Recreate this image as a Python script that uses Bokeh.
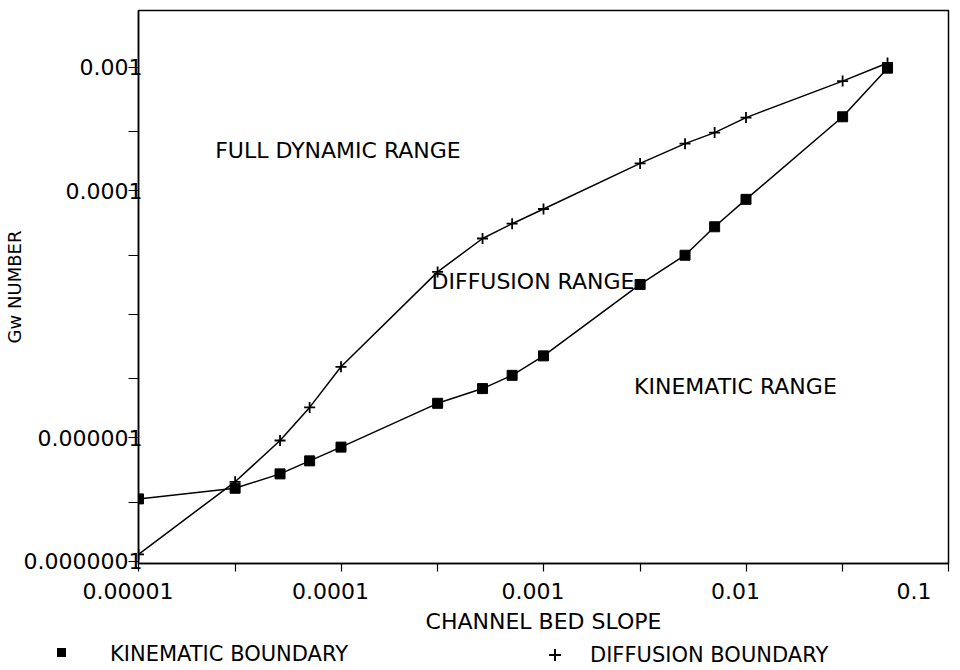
from bokeh.plotting import figure
from bokeh.layouts import column
from bokeh.models import (FixedTicker, CustomJSTickFormatter, Label, Range1d, Div)
from bokeh.embed import file_html
from bokeh.resources import INLINE

# ---- data ----
slope = [1e-5, 3e-5, 5e-5, 7e-5, 1e-4, 3e-4, 5e-4, 7e-4,
         1e-3, 3e-3, 5e-3, 7e-3, 1e-2, 3e-2, 5e-2]
kinematic_gw = [3.2e-7, 3.9e-7, 5.1e-7, 6.5e-7, 8.4e-7, 1.9e-6, 2.5e-6, 3.2e-6,
                4.6e-6, 1.74e-5, 3.0e-5, 5.1e-5, 8.5e-5, 3.96e-4, 9.8e-4]
diffusion_gw = [1.14e-7, 4.4e-7, 9.5e-7, 1.76e-6, 3.75e-6, 2.2e-5, 4.1e-5, 5.4e-5,
                7.1e-5, 1.66e-4, 2.4e-4, 2.95e-4, 3.9e-4, 7.7e-4, 1.08e-3]

x_tick_values = [1e-5, 1e-4, 1e-3, 1e-2, 1e-1]
x_tick_labels = ["0.00001", "0.0001", "0.001", "0.01", "0.1"]
x_minor_values = [3e-5, 3e-4, 3e-3, 3e-2]
y_tick_values = [1e-7, 1e-6, 1e-5, 1e-4, 1e-3]
y_tick_labels = ["0.0000001", "0.000001", "", "0.0001", "0.001"]
y_minor_values = [3e-7, 3e-6, 3e-5, 3e-4]

region_labels = ["FULL DYNAMIC RANGE", "DIFFUSION RANGE", "KINEMATIC RANGE"]
series_names = ["KINEMATIC BOUNDARY", "DIFFUSION BOUNDARY"]

FONT = "DejaVu Sans"
FS = "22px"

p = figure(width=952, height=636, x_axis_type="log", y_axis_type="log",
           x_range=Range1d(1e-5, 1e-1), y_range=Range1d(9.6e-8, 2.87e-3),
           output_backend="svg", toolbar_location=None,
           min_border_left=136, min_border_right=4, min_border_top=10,
           min_border_bottom=70)
p.xgrid.visible = False
p.ygrid.visible = False
p.outline_line_color = "black"
p.outline_line_width = 1.5
p.background_fill_color = "white"
p.border_fill_color = "white"

fmt_code = """
for (let i = 0; i < vals.length; i++) {
  if (Math.abs(Math.log10(tick) - Math.log10(vals[i])) < 1e-6) return labs[i] + pad;
}
return "";
"""

xa = p.xaxis[0]
xa.ticker = FixedTicker(ticks=x_tick_values, minor_ticks=x_minor_values)
# labels in the original sit a little left of their ticks: pad with no-break spaces
xa.formatter = CustomJSTickFormatter(args=dict(vals=x_tick_values, labs=x_tick_labels,
                                               pad="\u00a0\u00a0\u00a0"), code=fmt_code)
xa.axis_label = "CHANNEL BED SLOPE"
xa.axis_label_text_font = FONT
xa.axis_label_text_font_size = FS
xa.axis_label_text_font_style = "normal"
xa.axis_label_text_color = "black"
xa.axis_label_standoff = 2
xa.major_label_text_font = FONT
xa.major_label_text_font_size = FS
xa.major_label_text_color = "black"
xa.major_label_standoff = 7
xa.major_tick_out = 8
xa.major_tick_in = 0
xa.minor_tick_out = 8
xa.minor_tick_in = 0
xa.axis_line_width = 1.5
xa.major_tick_line_width = 1.2
xa.minor_tick_line_width = 1.2

ya = p.yaxis[0]
ya.ticker = FixedTicker(ticks=y_tick_values, minor_ticks=y_minor_values)
ya.formatter = CustomJSTickFormatter(args=dict(vals=y_tick_values, labs=y_tick_labels, pad=""),
                                     code=fmt_code)
ya.axis_label = "Gw NUMBER"
ya.axis_label_text_font = FONT
ya.axis_label_text_font_size = "18px"
ya.axis_label_text_font_style = "normal"
ya.axis_label_text_color = "black"
ya.axis_label_standoff = -4
ya.major_label_text_font = FONT
ya.major_label_text_font_size = FS
ya.major_label_text_color = "black"
ya.major_label_standoff = -14
ya.major_tick_out = 10
ya.major_tick_in = 0
ya.minor_tick_out = 10
ya.minor_tick_in = 0
ya.axis_line_width = 1.5
ya.major_tick_line_width = 1.2
ya.minor_tick_line_width = 1.2

# ---- series ----
p.line(slope, kinematic_gw, line_color="black", line_width=1.5)
p.scatter(slope, kinematic_gw, marker="square", size=10,
          fill_color="black", line_color="black")
p.line(slope, diffusion_gw, line_color="black", line_width=1.5)
p.scatter(slope, diffusion_gw, marker="cross", size=11,
          line_color="black", line_width=1.8)

# ---- region labels ----
label_pos = [(2.39e-5, 2.11e-4), (2.8e-4, 1.84e-5), (2.8e-3, 2.6e-6)]
for txt, (lx, ly) in zip(region_labels, label_pos):
    p.add_layout(Label(x=lx, y=ly, text=txt, text_font=FONT, text_font_size=FS,
                       text_align="left", text_baseline="middle", text_color="black"))

# ---- key below the chart (the original puts it under the axis title, left of the frame) ----
key_html = f"""
<div style="position:relative;width:952px;height:30px;font-family:'DejaVu Sans',sans-serif;
            font-size:21px;line-height:24px;color:black;">
  <div style="position:absolute;left:57px;top:12px;width:9px;height:9px;background:black;"></div>
  <div style="position:absolute;left:110px;top:6px;white-space:nowrap;">{series_names[0]}</div>
  <div style="position:absolute;left:549px;top:18px;width:12px;height:2px;background:black;"></div>
  <div style="position:absolute;left:554px;top:13px;width:2px;height:12px;background:black;"></div>
  <div style="position:absolute;left:590px;top:7px;white-space:nowrap;">{series_names[1]}</div>
</div>
"""
key = Div(text=key_html, width=952, height=30, margin=0)

layout = column(p, key, spacing=0)
open("out.html", "w").write(file_html(layout, INLINE))
